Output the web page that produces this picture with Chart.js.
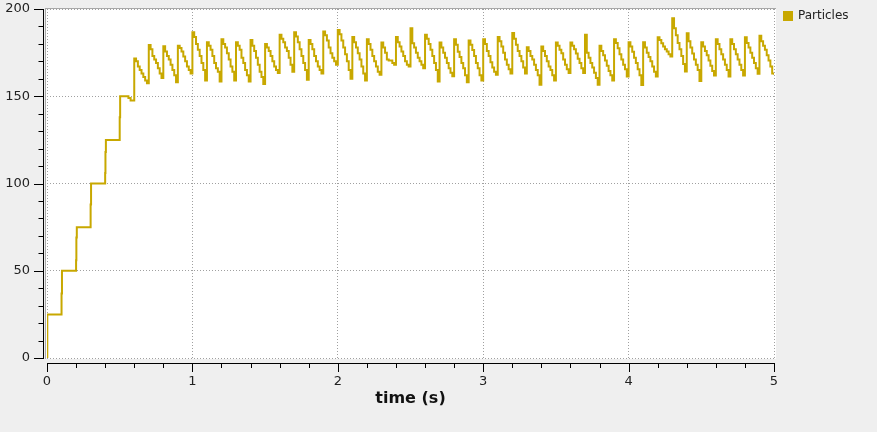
<!DOCTYPE html>
<html><head><meta charset="utf-8">
<script src="https://cdn.jsdelivr.net/npm/chart.js@4.4.1/dist/chart.umd.min.js"></script>
<style>html,body{margin:0;padding:0;background:#efefef;overflow:hidden}canvas{display:block}</style>
</head><body>
<canvas id="c" width="877" height="432"></canvas>
<script>
// ---- data ----
const seriesName = 'Particles';
const xAxisTitle = 'time (s)';
const xTickValues = [0, 1, 2, 3, 4, 5];
const yTickValues = [0, 50, 100, 150, 200];

// filling phase (time, particles)
const rampTimes  = [0, 0.002, 0.1, 0.103, 0.2, 0.202, 0.205, 0.3, 0.303, 0.4, 0.402, 0.405, 0.5, 0.503, 0.56, 0.575];
const rampValues = [0, 25, 37, 50, 56, 69, 75, 88, 100, 106, 118, 125, 138, 150, 149, 147.5];

// oscillating phase: each injection cycle starts at these times
const cycleStartTimes = [0.6,0.7,0.8,0.9,1.0,1.1,1.2,1.3,1.4,1.5,1.6,1.7,1.8,1.9,2.0,2.1,2.2,2.3,2.4,2.5,2.6,2.7,2.8,2.9,3.0,3.1,3.2,3.3,3.4,3.5,3.6,3.7,3.8,3.9,4.0,4.1,4.2,4.3,4.4,4.5,4.6,4.7,4.8,4.9];
// sample offsets within a cycle (s)
const cycleSampleOffsets = [0, 0.0125, 0.025, 0.0375, 0.05, 0.0625, 0.075, 0.0875];
// particle counts read for each cycle at those offsets
const cycleValues = [
 [171.7,170,167,165,163,161,159,157.5],
 [179.3,177,173,171,169,166,163,160.5],
 [178.7,175.7,173,171,168,165,162,158],
 [178.9,177.6,175.7,172.8,170,167,165,163],
 [186.7,184,180,176.6,173,169,165,159],
 [181,179,176.6,173,169,166,164,158.5],
 [182.7,180,178,174.7,171,167,164,159],
 [181,179,176.6,172,169,165,162,158.5],
 [182.3,179,176,172,168,164,161,157],
 [180,178,176,173,170,167,165,163.3],
 [185.2,183,181,178,176,172,168,164],
 [186.7,184.3,181,177,173,169,165,159.4],
 [182.3,180,177,173,170,167,165,163],
 [187.1,185,182,178,174.7,172,170,168],
 [188,185.5,182,178,174,170,165,160],
 [183.9,181,178,174.7,171,167,163,159],
 [182.7,180,176.6,173,170,167,164,162.3],
 [180.8,178,175,171,170.5,170.5,169,168],
 [183.9,181,178.5,175.7,173,170,168,167],
 [189,180.4,178,175,172,170,168,166],
 [185.2,183,180,176.6,173,169,165,158.5],
 [180.8,178,175,172,169,166,163.5,161.4],
 [182.7,179.5,175.5,172.5,169,166,162,158],
 [182,179.5,176.5,173,169,166,162,159],
 [182.7,180,176,173,169.5,166.5,164,162.3],
 [183.9,181.5,178.5,175,171,168,165.5,163],
 [186.2,183,179.5,176,173,170,166.5,163],
 [178.1,176,173,171,168,165,162,156.6],
 [178.5,176,173,170,167,165,162,159],
 [180.8,179,176.6,174.7,171,168,165.5,163.3],
 [180.8,179,177,174.5,171.5,169,166,163.3],
 [185.2,175,172,169,166.5,163.5,160.5,156.6],
 [178.9,176,173.5,170.5,167.5,164.5,162,159],
 [182.7,180.5,177.5,174,171,168,165.5,161.3],
 [181,178.5,175.5,172,169,165.5,162,156.5],
 [181,178,175,172.5,170,167,164,161.3],
 [183.8,182.3,180.4,178.5,177,175.6,174,172.8],
 [194.7,189,185,180.5,177,173,168.5,164.2],
 [186.1,181.5,178,174.5,171,168,165,158.8],
 [181,178.5,176,173.5,170.5,167.5,164.5,161.9],
 [182.7,180,177,174,171,168,165,161.3],
 [182.7,180,177,174,171,168,165,161.9],
 [183.8,180.5,178,175,172,169,166,162.9],
 [184.6,181.5,179,176.6,173.5,170.5,167,163]
];
const endTime = 5.0;
const endValue = 162.3;

// ---- build points ----
const points = [];
rampTimes.forEach((t, i) => points.push({x: t, y: rampValues[i]}));
cycleStartTimes.forEach((t0, i) => {
  cycleSampleOffsets.forEach((dt, j) => points.push({x: +(t0 + dt).toFixed(4), y: cycleValues[i][j]}));
});
points.push({x: endTime, y: endValue});

const LINE = '#c8a800';
Chart.defaults.font.family = "'DejaVu Sans', sans-serif";
Chart.defaults.color = '#222';

const framePlugin = {
  id: 'frame',
  beforeDraw(chart) {
    const {ctx, chartArea: a} = chart;
    ctx.save();
    ctx.fillStyle = '#ffffff';
    ctx.fillRect(a.left - 2, a.top - 1, a.right - a.left + 4, a.bottom - a.top + 2);
    ctx.strokeStyle = '#a8a8a8';
    ctx.lineWidth = 1;
    ctx.beginPath();
    ctx.moveTo(a.left - 2, a.top - 0.5); ctx.lineTo(a.right + 2, a.top - 0.5);
    ctx.moveTo(a.left - 1.5, a.top - 1); ctx.lineTo(a.left - 1.5, a.bottom + 1);
    ctx.stroke();
    ctx.restore();
  },
  afterDraw(chart) {
    const {ctx, scales: {x, y}} = chart;
    ctx.save();
    ctx.strokeStyle = '#000';
    ctx.lineWidth = 1;
    ctx.beginPath();
    // y axis
    const ax = Math.round(x.getPixelForValue(0)) - 3.5;
    const yTop = Math.round(y.getPixelForValue(200)), yBot = Math.round(y.getPixelForValue(0));
    ctx.moveTo(ax, yTop); ctx.lineTo(ax, yBot + 1);
    for (let v = 0; v <= 200; v += 10) {
      const py = Math.round(y.getPixelForValue(v)) + 0.5;
      const major = yTickValues.includes(v);
      ctx.moveTo(ax - (major ? 9.5 : 5), py); ctx.lineTo(ax, py);
    }
    // x axis
    const ay = Math.round(y.getPixelForValue(0)) + 5.5;
    const xL = Math.round(x.getPixelForValue(0)), xR = Math.round(x.getPixelForValue(5));
    ctx.moveTo(xL, ay); ctx.lineTo(xR + 1, ay);
    for (let k = 0; k <= 25; k++) {
      const v = k * 0.2;
      const px = Math.round(x.getPixelForValue(v)) + 0.5;
      const major = k % 5 === 0;
      ctx.moveTo(px, ay); ctx.lineTo(px, ay + (major ? 8.5 : 4.5));
    }
    ctx.stroke();
    ctx.restore();
  }
};

const chart = new Chart(document.getElementById('c'), {
  type: 'line',
  data: {
    datasets: [{
      label: seriesName,
      data: points,
      borderColor: LINE,
      backgroundColor: LINE,
      borderWidth: 2,
      pointRadius: 0,
      stepped: true,
      fill: false
    }]
  },
  options: {
    responsive: false,
    animation: false,
    devicePixelRatio: 1,
    layout: {padding: {top: 0, right: 0, bottom: 0, left: 0}},
    plugins: {
      legend: {
        position: 'right',
        align: 'start',
        labels: {boxWidth: 8, boxHeight: 8, padding: 10, font: {size: 12}, color: '#222'}
      },
      tooltip: {enabled: false}
    },
    scales: {
      x: {
        type: 'linear', min: 0, max: 5,
        afterBuildTicks(s) { s.ticks = xTickValues.map(v => ({value: v})); },
        ticks: {padding: 16, font: {size: 13}, color: '#222', maxRotation: 0},
        grid: {color: '#a0a0a0', lineWidth: 1, drawTicks: false},
        border: {display: false, dash: [1, 2]},
        title: {display: true, text: xAxisTitle, font: {size: 16, weight: 'bold'}, color: '#111', padding: {top: 0, bottom: 24}},
        afterFit(s) { s.height = 74; s.paddingLeft = 0; s.paddingRight = 0; }
      },
      x2: {
        type: 'linear', position: 'top', display: true,
        ticks: {display: false}, grid: {display: false, drawTicks: false}, border: {display: false},
        afterFit(s) { s.height = 9; s.paddingLeft = 0; s.paddingRight = 0; }
      },
      y: {
        type: 'linear', min: 0, max: 200,
        afterBuildTicks(s) { s.ticks = yTickValues.map(v => ({value: v})); },
        ticks: {padding: 17, font: {size: 13}, color: '#222'},
        grid: {color: '#a0a0a0', lineWidth: 1, drawTicks: false},
        border: {display: false, dash: [1, 2]},
        afterFit(s) { s.width = 47; s.paddingTop = 0; s.paddingBottom = 0; }
      }
    }
  },
  plugins: [framePlugin]
});
const dx = chart.chartArea.right - 774;
if (Math.abs(dx) > 0.01) {
  chart.options.layout.padding.right += dx;
  chart.update();
}
</script>
</body></html>
